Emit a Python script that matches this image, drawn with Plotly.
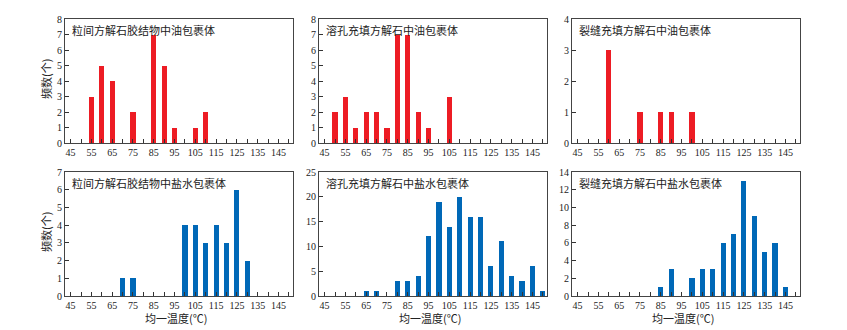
import plotly.graph_objects as go
from plotly.subplots import make_subplots

# ---- data ----
oil_inter_t = [55, 60, 65, 75, 85, 90, 95, 105, 110]
oil_inter_n = [3, 5, 4, 2, 7, 5, 1, 1, 2]

oil_diss_t = [50, 55, 60, 65, 70, 75, 80, 85, 90, 95, 105]
oil_diss_n = [2, 3, 1, 2, 2, 1, 7, 7, 2, 1, 3]

oil_frac_t = [60, 75, 85, 90, 100]
oil_frac_n = [3, 1, 1, 1, 1]

brine_inter_t = [70, 75, 100, 105, 110, 115, 120, 125, 130]
brine_inter_n = [1, 1, 4, 4, 3, 4, 3, 6, 2]

brine_diss_t = [65, 70, 80, 85, 90, 95, 100, 105, 110, 115, 120, 125, 130, 135, 140, 145, 150]
brine_diss_n = [1, 1, 3, 3, 4, 12, 19, 14, 20, 16, 16, 6, 11, 4, 3, 6, 1]

brine_frac_t = [85, 90, 100, 105, 110, 115, 120, 125, 130, 135, 140, 145]
brine_frac_n = [1, 3, 2, 3, 3, 6, 7, 13, 9, 5, 6, 1]

titles = ["粒间方解石胶结物中油包裹体", "溶孔充填方解石中油包裹体", "裂缝充填方解石中油包裹体",
          "粒间方解石胶结物中盐水包裹体", "溶孔充填方解石中盐水包裹体", "裂缝充填方解石中盐水包裹体"]
x_tick_vals = list(range(45, 146, 10))
x_tick_text = [str(v) for v in x_tick_vals]
y_max = [8, 8, 4, 7, 25, 14]
y_dtick = [1, 1, 1, 1, 5, 2]
y_title = "频数(个)"
x_title = "均一温度(℃)"

RED = "#ED1C24"
BLUE = "#0068B7"

series = [(oil_inter_t, oil_inter_n, RED), (oil_diss_t, oil_diss_n, RED), (oil_frac_t, oil_frac_n, RED),
          (brine_inter_t, brine_inter_n, BLUE), (brine_diss_t, brine_diss_n, BLUE), (brine_frac_t, brine_frac_n, BLUE)]

# page body has an 8px default margin: the figure starts at (8, 8) in the window
OFF = 8
W, H = 847 - OFF, 330 - OFF
xdom_px = [(65, 293), (319, 547), (572, 800)]
ydom_px = [(19, 143), (172, 296)]

fig = make_subplots(rows=2, cols=3)
serif = "Liberation Serif, Times New Roman, serif"
cjk = "Noto Sans CJK SC, sans-serif"


def px_x(p):
    return (p - OFF) / W


def px_y(p):
    return 1 - (p - OFF) / H


for i, (t, n, c) in enumerate(series):
    r, col = i // 3 + 1, i % 3 + 1
    fig.add_trace(go.Bar(x=t, y=n, marker=dict(color=c, line=dict(width=0)), width=2.5,
                         showlegend=False), row=r, col=col)
    x0, x1 = xdom_px[col - 1]
    yt, yb = ydom_px[r - 1]
    fig.update_xaxes(domain=[px_x(x0), px_x(x1)], range=[42.3, 152],
                     tickvals=x_tick_vals, ticktext=x_tick_text,
                     ticks="inside", ticklen=4, tickcolor="#333", showline=True, linecolor="#444",
                     linewidth=1, mirror=True, showgrid=False, zeroline=False, automargin=False,
                     minor=dict(tickmode="linear", tick0=45, dtick=5, ticks="inside", ticklen=4, tickcolor="#333"),
                     tickfont=dict(family=serif, size=10, color="#222"),
                     row=r, col=col)
    fig.update_yaxes(domain=[px_y(yb), px_y(yt)], range=[0, y_max[i]], dtick=y_dtick[i], tick0=0,
                     ticks="inside", ticklen=4, tickcolor="#333", showline=True, linecolor="#444",
                     linewidth=1, mirror=True, showgrid=False, zeroline=False, automargin=False,
                     tickfont=dict(family=serif, size=10, color="#222"),
                     row=r, col=col)
    xref = "x" if i == 0 else f"x{i+1}"
    yref = "y" if i == 0 else f"y{i+1}"
    fig.add_annotation(text=titles[i], xref=f"{xref} domain", yref=f"{yref} domain", x=0, y=1,
                       xanchor="left", yanchor="top", xshift=5, yshift=-1, showarrow=False,
                       font=dict(family=cjk, size=11, color="#222"))
    if r == 2:
        fig.add_annotation(text=x_title, xref="paper", yref="paper", x=px_x((x0 + x1) / 2 - 3), y=px_y(317.5),
                           xanchor="center", yanchor="middle", showarrow=False, borderpad=0,
                           font=dict(family=cjk, size=11, color="#222"))
    if col == 1:
        fig.add_annotation(text=y_title, xref="paper", yref="paper", x=px_x(46), y=px_y((yt + yb) / 2 - 2),
                           xanchor="center", yanchor="middle", textangle=-90, showarrow=False,
                           font=dict(family=cjk, size=11, color="#222"))

fig.update_layout(width=W, height=H, margin=dict(l=0, r=0, t=0, b=0), plot_bgcolor="white",
                  paper_bgcolor="white", bargap=0)
fig.write_html("out.html")
